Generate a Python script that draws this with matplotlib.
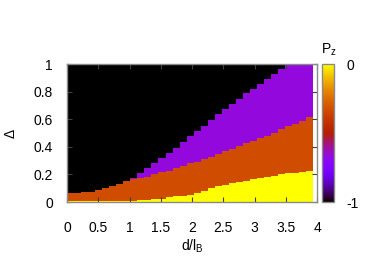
import numpy as np
import matplotlib
matplotlib.use("Agg")
import matplotlib.pyplot as plt
from matplotlib import colors, cm
from matplotlib.ticker import FormatStrFormatter

plt.rcParams['font.family'] = ['Liberation Sans', 'DejaVu Sans']
plt.rcParams['axes.unicode_minus'] = False

# ---- data ----
x_max = 3.94          # right end of the computed d/l_B range
n_cols = 35           # number of d/l_B cells
# upper boundary of each phase (Delta) per d/l_B cell
yellow_top = [0.005, 0.005, 0.005, 0.005, 0.005, 0.005, 0.005, 0.005, 0.005, 0.005,
              0.011, 0.012, 0.021, 0.023, 0.034, 0.043, 0.045, 0.054, 0.063, 0.080,
              0.099, 0.114, 0.126, 0.135, 0.145, 0.154, 0.166, 0.172, 0.184, 0.190,
              0.200, 0.208, 0.213, 0.217, 0.222]
orange_top = [0.064, 0.066, 0.073, 0.075, 0.085, 0.102, 0.116, 0.132, 0.152, 0.166,
              0.174, 0.183, 0.204, 0.215, 0.226, 0.244, 0.263, 0.283, 0.292, 0.312,
              0.328, 0.351, 0.368, 0.386, 0.405, 0.425, 0.445, 0.462, 0.476, 0.498,
              0.528, 0.548, 0.567, 0.586, 0.617]
purple_top = [0.064, 0.066, 0.073, 0.075, 0.085, 0.102, 0.116, 0.132, 0.152, 0.172,
              0.211, 0.244, 0.285, 0.322, 0.354, 0.394, 0.436, 0.476, 0.514, 0.553,
              0.594, 0.635, 0.672, 0.709, 0.747, 0.787, 0.820, 0.858, 0.888, 0.924,
              0.962, 1.0, 1.0, 1.0, 1.0]
# P_z value of each phase
pz_yellow, pz_orange, pz_purple, pz_black = 0.0, -1/3, -2/3, -1.0

xticks = [0, 0.5, 1, 1.5, 2, 2.5, 3, 3.5, 4]
yticks = [0, 0.2, 0.4, 0.6, 0.8, 1]
cbar_ticks = [-1, 0]

# ---- figure ----
W, H = 382, 267
FS = 10
fig = plt.figure(figsize=(W / 100, H / 100), dpi=100)
ax = fig.add_axes([67 / W, 1 - 202 / H, 250 / W, 138 / H])

cmap = plt.get_cmap('gnuplot')
norm = colors.Normalize(vmin=-1, vmax=0)

x_edges = np.linspace(0, x_max, n_cols + 1)

def ext(a):
    a = list(a)
    return np.array(a + [a[-1]])

ax.fill_between(x_edges, 0, ext([1.0] * n_cols), step='post',
                color=cmap(norm(pz_black)), lw=0, antialiased=False)
ax.fill_between(x_edges, 0, ext(purple_top), step='post',
                color=cmap(norm(pz_purple)), lw=0, antialiased=False)
ax.fill_between(x_edges, 0, ext(orange_top), step='post',
                color=cmap(norm(pz_orange)), lw=0, antialiased=False)
ax.fill_between(x_edges, 0, ext(yellow_top), step='post',
                color=cmap(norm(pz_yellow)), lw=0, antialiased=False)

ax.set_xlim(0, 4)
ax.set_ylim(0, 1)
ax.set_xticks(xticks)
ax.set_yticks(yticks)
ax.xaxis.set_major_formatter(FormatStrFormatter('%g'))
ax.yaxis.set_major_formatter(FormatStrFormatter('%g'))
ax.tick_params(direction='in', top=True, right=True, length=3.5, width=0.8,
               color='#404040', labelsize=FS)
ax.tick_params(axis='x', pad=14)
ax.tick_params(axis='y', pad=10)
for s in ax.spines.values():
    s.set_color('#8a8a8a')
    s.set_linewidth(1.0)
ax.set_xlabel('d/l$_\\mathregular{B}$', fontsize=FS, va='center', ha='center')
ax.xaxis.set_label_coords(0.5, (202 - 246) / 138)
ax.set_ylabel('Δ', fontsize=FS, va='center', ha='center')
ax.yaxis.set_label_coords((11 - 67) / 250, 0.5)

# colorbar
cax = fig.add_axes([322 / W, 1 - 202 / H, 12 / W, 138 / H])
sm = cm.ScalarMappable(norm=norm, cmap=cmap)
cb = fig.colorbar(sm, cax=cax, ticks=cbar_ticks)
cb.ax.yaxis.set_major_formatter(FormatStrFormatter('%g'))
cb.ax.tick_params(length=0, labelsize=FS, pad=9)
cb.outline.set_edgecolor('#8a8a8a')
cb.outline.set_linewidth(1.0)
fig.text(329 / W, 1 - 50 / H, 'P$_\\mathregular{z}$', fontsize=FS,
         ha='center', va='center')

fig.savefig('out.png', dpi=100)
